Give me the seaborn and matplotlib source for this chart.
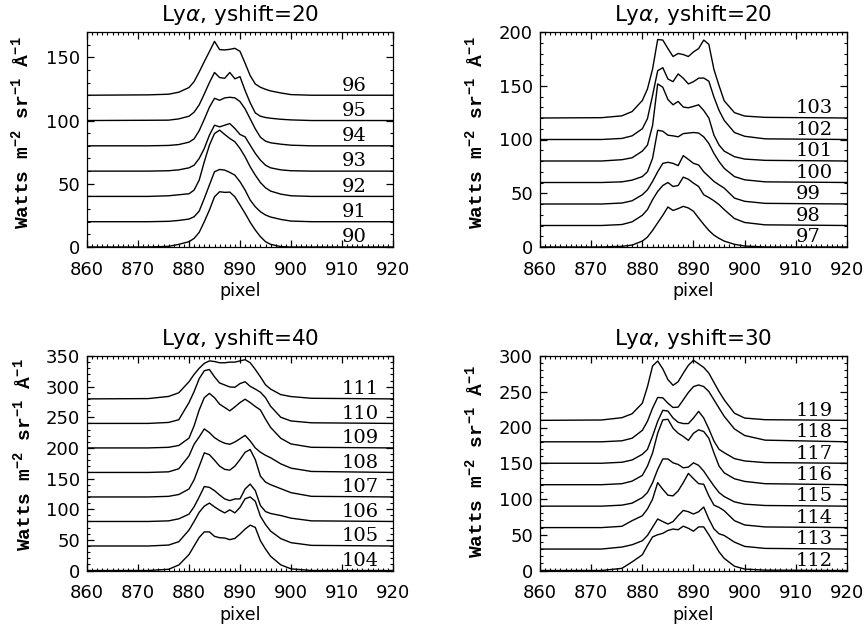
import matplotlib
matplotlib.use("Agg")
import matplotlib.pyplot as plt
from matplotlib.ticker import MultipleLocator
import pandas as pd
import seaborn as sns

# Detector pixel grid shared by every spectrum
pixels = [860, 872, 876, 878, 880, 881, 882, 883, 884, 885, 886, 887, 888,
          889, 890, 891, 892, 893, 894, 895, 896, 898, 900, 904, 920]

# Ly-alpha profiles (W m^-2 sr^-1 A^-1), before stacking
spec_90 = [0, 0, 0.5, 2.1, 4.2, 6.8, 11.6, 20, 29.2, 39.7, 43.7, 43.2, 43.4, 39.7, 33.2, 26.6, 19.5, 13.4, 8.2, 4.2, 2.1, 0.3, 0, 0, 0]
spec_91 = [0, 0, 0.3, 1, 2.1, 3.9, 8.4, 18.4, 29, 39.5, 41.3, 40.8, 39, 36.8, 31.6, 25, 17.1, 11.8, 7.9, 5.3, 3.7, 1.8, 0.5, 0, 0]
spec_92 = [0, 0, 0.5, 1.3, 2.1, 5, 12.9, 27.4, 40.5, 49.7, 52.4, 49, 45.8, 43.2, 37.9, 31.3, 23.4, 16.8, 11, 6.8, 4.2, 1.8, 0.5, 0, 0]
spec_93 = [0, 0, 0.3, 1, 2.6, 4.7, 10, 17.9, 28.4, 36.3, 35, 36.3, 37.6, 33.7, 29, 27.1, 20.5, 14, 8.7, 4.7, 2.6, 1, 0.3, 0, 0]
spec_94 = [0, 0, 0.3, 1, 2.9, 5.5, 12, 21, 30.5, 37.6, 36, 37.9, 38.4, 37.9, 35, 29.2, 21.3, 13.4, 6.8, 3.7, 2.4, 1.3, 0.5, 0, 0]
spec_95 = [0, 0.2, 0.3, 1.3, 3.4, 6.6, 12.4, 21, 30, 38, 34, 33.4, 38, 33, 34.7, 23.7, 14, 6, 3.4, 2.4, 1.8, 1, 0.5, 0, 0]
spec_96 = [0, 0.3, 0.8, 2.4, 6.1, 10.8, 18.4, 26.6, 34.5, 42.6, 36.1, 35.8, 36.3, 37.1, 34.7, 25.3, 15.5, 8.9, 6.3, 4.7, 3.4, 1.8, 0.5, 0, 0]

spec_97 = [0, 0, 0.6, 1.8, 5.5, 9.2, 15.4, 22.5, 29.5, 37.2, 34, 35.7, 37.8, 36.3, 33.2, 27, 21, 15.4, 11, 8, 5.5, 2.5, 0.9, 0, 0]
spec_98 = [0, 0, 0.9, 3.4, 9.5, 14.8, 24, 31.7, 37.2, 40, 36.3, 37.2, 45, 43, 39.4, 36.3, 28.6, 26, 23, 19.4, 14.8, 6.5, 2.8, 0.6, 0]
spec_99 = [0, 0, 0.9, 3, 8.6, 13.2, 21, 30, 37.8, 38.8, 37.8, 35.7, 45, 41.5, 37.8, 36.3, 30, 25.5, 21, 17.8, 14.8, 5.5, 2.5, 0.6, 0]
spec_100 = [0, 0, 0.6, 2.2, 5.5, 10, 22.5, 48.6, 47.7, 44, 43.4, 42.5, 45.5, 46, 46.5, 46, 42.5, 36.3, 27, 19.4, 13.2, 5.5, 2.5, 0.6, 0]
spec_101 = [0, 0, 1.2, 3, 9.2, 14.8, 33, 71.7, 68.6, 57.2, 52.3, 55.4, 50.2, 49.5, 50.8, 52.3, 47, 40, 24, 14.8, 9.2, 4, 1.8, 0.6, 0]
spec_102 = [0, 0, 1, 3.4, 10, 19.4, 41, 64, 66.8, 56.3, 53.8, 61, 57, 51.7, 53.8, 57, 57.2, 54.2, 39.4, 27, 17.8, 6.5, 3, 0.6, 0]
spec_103 = [0, 0.3, 2, 6, 16.3, 27, 45.5, 73, 72.5, 64.6, 57.2, 60, 59, 57.2, 61.5, 64.6, 72.5, 68.5, 45, 30, 16, 5, 1.8, 0.6, 0]

spec_104 = [0, 0, 2, 9, 26, 40, 54, 63, 63, 55.7, 53.5, 53, 50.3, 52.4, 59.5, 67.6, 74, 70.3, 48.6, 35, 23.2, 9.2, 2.7, 0, 0]
spec_105 = [0, 0, 1.5, 7, 26, 40, 55, 65, 70, 63.8, 58.4, 54, 59, 54, 63, 77, 80, 73, 48.6, 35, 24.3, 12, 5.4, 1, 0]
spec_106 = [0, 0, 1, 4.3, 12, 24, 40, 57, 55.7, 50.3, 43.2, 36.8, 34, 36.8, 36.8, 53, 61, 50.3, 26, 16.2, 13, 9.7, 5.4, 1, 0]
spec_107 = [0, 0, 1, 4, 13, 28, 50, 72, 69, 60, 50.3, 45, 43.8, 50.3, 61, 73, 77.3, 61, 34, 24.3, 20, 13.5, 7, 1, 0]
spec_108 = [0, 0, 1, 6, 27, 46, 58, 71, 65, 56.8, 51.4, 47.6, 46, 49.7, 55, 60.5, 51.4, 40, 33, 28, 24, 14, 7, 1.6, 0]
spec_109 = [0, 0, 1, 4, 16, 36, 62, 82, 89, 82, 71.4, 66, 60.5, 67, 74, 79.5, 74, 67.6, 62, 47, 33.5, 15.7, 6.5, 1, 0]
spec_110 = [0, 0, 1.6, 6, 34, 52, 73, 86, 88, 76, 66, 62.7, 59.5, 59, 65, 68, 60.5, 56, 51, 42, 28, 10, 4, 1, 0]
spec_111 = [0, 0.5, 4, 10, 28, 40, 50, 58, 62, 61, 59, 59, 60, 60, 62, 64, 59, 48, 36, 23, 16, 7, 3.8, 1, 0]

spec_112 = [0, 0, 3, 12, 22, 35, 47, 50, 52, 56, 58, 57, 62, 59, 55, 61, 61, 50, 38, 26, 17, 6, 2, 0.5, 0]
spec_113 = [0, 0, 2.8, 6, 11.6, 19, 30.5, 42, 38.4, 35, 38.4, 46.7, 54, 52.2, 49, 52.2, 58.7, 42, 28.2, 21.3, 19, 9.7, 3.7, 0.9, 0]
spec_114 = [0, 0, 1.8, 9.7, 16.6, 26, 39.8, 62.9, 53.6, 45.3, 44.4, 51.3, 62.9, 75.8, 68.4, 61.5, 60.6, 44.4, 31.4, 28.2, 23.6, 9.7, 3.7, 0.9, 0]
spec_115 = [0, 0, 1.4, 4.2, 12, 19, 32.8, 51.3, 66, 66, 60.6, 58.3, 53.6, 54.6, 60.6, 57, 49, 38.4, 28.2, 19, 13.4, 6, 2.8, 0.9, 0]
spec_116 = [0, 0, 1.4, 5, 13, 26, 44.4, 72, 90.6, 91.5, 79, 72, 67.5, 62, 72, 76.7, 74.4, 65, 44.4, 26, 16.6, 8.3, 4.6, 1.4, 0]
spec_117 = [0, 0, 1.4, 4.6, 12.5, 19.4, 38, 58.7, 74, 73, 63.3, 57.3, 55.5, 55.5, 63.3, 72.6, 63.3, 48, 31, 19.4, 14.8, 6.5, 3.2, 0.9, 0]
spec_118 = [0, 0, 1.4, 5, 16, 28.7, 47, 62, 61.5, 54, 48, 48.5, 58.7, 69, 77.2, 79.5, 77.2, 70.3, 58.7, 47, 35.6, 18, 8.8, 2.3, 0]
spec_119 = [0, 0.5, 3.7, 9.2, 24, 47, 76, 83, 72, 57, 49, 54, 66, 77, 84, 79, 74, 66, 53, 40.2, 28.7, 10, 3.2, 0.9, 0]

# Stacking offsets and y-ranges of the four panels
panel_ids = [[90, 91, 92, 93, 94, 95, 96],
             [97, 98, 99, 100, 101, 102, 103],
             [104, 105, 106, 107, 108, 109, 110, 111],
             [112, 113, 114, 115, 116, 117, 118, 119]]
yshifts = [20, 20, 40, 30]
ymaxes = [170, 200, 350, 300]

spectra = {k: globals()[f"spec_{k}"] for ids in panel_ids for k in ids}

sns.set_theme(style="ticks")
plt.rcParams["font.family"] = ["DejaVu Sans"]
plt.rcParams["text.color"] = "black"
plt.rcParams["axes.labelcolor"] = "black"
plt.rcParams["axes.titlecolor"] = "black"
plt.rcParams["mathtext.fontset"] = "custom"
plt.rcParams["mathtext.rm"] = "Liberation Mono:bold"
plt.rcParams["mathtext.it"] = "DejaVu Sans:italic"

W, H = 866, 631
fig = plt.figure(figsize=(W / 100, H / 100), dpi=100)

# axes boxes in pixel coordinates: left, top, right, bottom
boxes = [(87, 32, 393, 247), (540, 32, 847, 247),
         (87, 356, 393, 570.5), (540, 356, 847, 570.5)]
ylabel_pos = [(22, 133), (476, 133), (24, 455), (476, 462)]

for p, ids in enumerate(panel_ids):
    l, t, r, b = boxes[p]
    ax = fig.add_axes([l / W, 1 - b / H, (r - l) / W, (b - t) / H])
    shift = yshifts[p]
    rows = []
    for k, sid in enumerate(ids):
        for x, v in zip(pixels, spectra[sid]):
            rows.append({"pixel": x, "flux": v + shift * k, "spectrum": sid})
    df = pd.DataFrame(rows)
    sns.lineplot(data=df, x="pixel", y="flux", units="spectrum", estimator=None,
                 color="black", linewidth=1.0, sort=False, legend=False, ax=ax)
    for k, sid in enumerate(ids):
        ax.annotate(str(sid), xy=(910, shift * k), xytext=(0, 0.5),
                    textcoords="offset points", ha="left", va="bottom",
                    fontsize=14, family="DejaVu Serif", color="black")

    ax.set_xlim(860, 920)
    ax.set_ylim(0, ymaxes[p])
    ax.xaxis.set_major_locator(MultipleLocator(10))
    ax.xaxis.set_minor_locator(MultipleLocator(1))
    ax.yaxis.set_major_locator(MultipleLocator(50))
    ax.yaxis.set_minor_locator(MultipleLocator(10))
    ax.tick_params(which="both", direction="in", top=True, right=True,
                   colors="black", labelsize=13)
    ax.tick_params(which="major", length=5, width=0.9)
    ax.tick_params(which="minor", length=2.5, width=0.8)
    ax.tick_params(axis="x", which="major", pad=10)
    ax.tick_params(axis="y", which="major", pad=5)
    for s in ax.spines.values():
        s.set_linewidth(0.9)
        s.set_color("black")
    ax.set_xlabel("")
    ax.set_ylabel("")
    ax.set_title(rf"Ly$\alpha$, yshift={shift}", fontsize=15.5, pad=8,
                 color="black")

    fig.text(((l + r) / 2) / W, 1 - (b + 44) / H, "pixel", ha="center",
             va="center", fontsize=12.5, color="black")
    yx, yy = ylabel_pos[p]
    fig.text(yx / W, 1 - yy / H, r"Watts m$^{-2}$ sr$^{-1}$ Å$^{-1}$",
             rotation=90, ha="center", va="center", fontsize=14,
             family="Liberation Mono", fontweight="bold", color="black")

fig.savefig("out.png", dpi=100, facecolor="white")
